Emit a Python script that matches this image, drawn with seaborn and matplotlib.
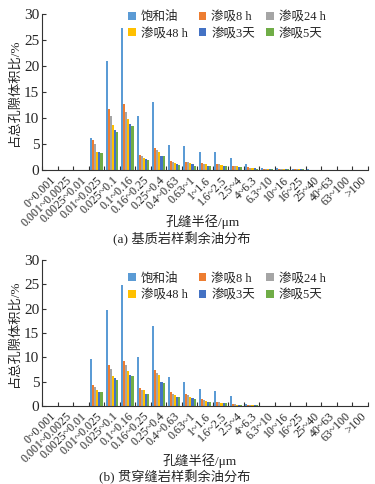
import numpy as np
import pandas as pd
import matplotlib
matplotlib.use("Agg")
import matplotlib.pyplot as plt
import seaborn as sns

categories = ["0~0.001", "0.001~0.0025", "0.0025~0.01", "0.01~0.025", "0.025~0.1",
              "0.1~0.16", "0.16~0.25", "0.25~0.4", "0.4~0.63", "0.63~1", "1~1.6",
              "1.6~2.5", "2.5~4", "4~6.3", "6.3~10", "10~16", "16~25", "25~40",
              "40~63", "63~100", ">100"]
series = ["饱和油", "渗吸8 h", "渗吸24 h", "渗吸48 h", "渗吸3天", "渗吸5天"]
colors = ["#5B9BD5", "#ED7D31", "#A5A5A5", "#FFC000", "#4472C4", "#70AD47"]

# (a) matrix samples
a_sat = [0, 0, 0, 6.1, 21.0, 27.4, 10.3, 13.0, 4.9, 4.6, 3.5, 3.4, 2.4, 1.15, 0.35, 0.3, 0.2, 0.1, 0, 0, 0]
a_8h = [0, 0, 0, 5.8, 11.7, 12.6, 2.9, 4.2, 1.8, 1.5, 1.3, 1.15, 0.8, 0.5, 0.2, 0.2, 0.15, 0.05, 0, 0, 0]
a_24h = [0, 0, 0, 5.0, 10.3, 11.1, 2.7, 3.85, 1.6, 1.5, 1.15, 1.15, 0.75, 0.45, 0.2, 0.15, 0.1, 0.05, 0, 0, 0]
a_48h = [0, 0, 0, 3.5, 8.65, 9.9, 2.4, 3.4, 1.4, 1.4, 1.1, 1.0, 0.75, 0.4, 0.2, 0.15, 0.1, 0.05, 0, 0, 0]
a_3d = [0, 0, 0, 3.45, 7.7, 8.85, 2.05, 2.7, 1.15, 1.15, 0.85, 0.8, 0.65, 0.3, 0.15, 0.1, 0.1, 0.05, 0, 0, 0]
a_5d = [0, 0, 0, 3.3, 7.4, 8.5, 1.9, 2.6, 1.0, 0.8, 0.85, 0.8, 0.6, 0.25, 0.15, 0.1, 0.1, 0.05, 0, 0, 0]

# (b) through-fracture samples
b_sat = [0, 0, 0, 9.75, 19.7, 24.8, 10.1, 16.5, 6.0, 5.0, 3.5, 3.0, 2.0, 0.5, 0, 0, 0, 0, 0, 0, 0]
b_8h = [0, 0, 0, 4.4, 8.4, 9.3, 3.7, 7.4, 2.8, 2.4, 1.4, 0.9, 0.4, 0.1, 0, 0, 0, 0, 0, 0, 0]
b_24h = [0, 0, 0, 3.9, 7.5, 8.4, 3.3, 6.7, 2.55, 2.2, 1.2, 0.8, 0.35, 0.1, 0, 0, 0, 0, 0, 0, 0]
b_48h = [0, 0, 0, 3.3, 6.2, 7.1, 3.2, 6.35, 2.2, 1.8, 1.0, 0.7, 0.3, 0.1, 0, 0, 0, 0, 0, 0, 0]
b_3d = [0, 0, 0, 2.95, 5.75, 6.35, 2.55, 5.0, 1.9, 1.6, 0.9, 0.6, 0.3, 0.1, 0, 0, 0, 0, 0, 0, 0]
b_5d = [0, 0, 0, 2.9, 5.4, 6.15, 2.5, 4.8, 1.9, 1.5, 0.8, 0.6, 0.3, 0.1, 0, 0, 0, 0, 0, 0, 0]

y_ticks = [0, 5, 10, 15, 20, 25, 30]

sns.set_theme(style="ticks")
FAM = ["Liberation Serif", "Noto Sans CJK SC"]
plt.rcParams["font.family"] = FAM


def long_df(vals):
    rows = []
    for s, v in zip(series, vals):
        for c, x in zip(categories, v):
            rows.append({"radius": c, "value": x, "series": s})
    return pd.DataFrame(rows)


fig = plt.figure(figsize=(3.75, 4.84), dpi=100)
fig.patch.set_facecolor("white")
ax_a = fig.add_axes([0.112, 0.6488, 0.869, 0.3222])
ax_b = fig.add_axes([0.112, 0.1612, 0.869, 0.3016])

panels = [
    (ax_a, [a_sat, a_8h, a_24h, a_48h, a_3d, a_5d], 0.988),
    (ax_b, [b_sat, b_8h, b_24h, b_48h, b_3d, b_5d], 0.447),
]

for ax, vals, leg_y in panels:
    df = long_df(vals)
    sns.barplot(data=df, x="radius", y="value", hue="series", order=categories,
                hue_order=series, palette=colors, saturation=1, errorbar=None,
                width=0.8, ax=ax, linewidth=0)
    ax.set_xlim(-0.5, len(categories) - 0.5)
    ax.set_ylim(0, 30)
    ax.set_yticks(y_ticks)
    ax.set_yticklabels([str(t) for t in y_ticks], fontsize=11)
    ax.set_xticks(range(len(categories)))
    ax.set_xticklabels(categories, rotation=45, ha="right", rotation_mode="anchor",
                       fontsize=8.5)
    ax.set_xticks(np.arange(-0.5, len(categories), 1.0), minor=True)
    ax.tick_params(axis="x", which="major", length=0, pad=3)
    ax.tick_params(axis="x", which="minor", direction="in", length=3, width=0.8, color="#333333")
    ax.tick_params(axis="y", direction="in", length=3, width=0.8, pad=2, color="#333333")
    ax.set_xlabel("")
    ax.set_ylabel("占总孔隙体积比/%", fontsize=9.5, labelpad=2)
    for s in ["top", "right"]:
        ax.spines[s].set_visible(False)
    for s in ["left", "bottom"]:
        ax.spines[s].set_color("#333333")
        ax.spines[s].set_linewidth(0.8)
    h, l = ax.get_legend_handles_labels()
    if ax.get_legend() is not None:
        ax.get_legend().remove()
    order = [0, 3, 1, 4, 2, 5]
    ax.legend([h[i] for i in order], [l[i] for i in order], ncol=3, frameon=False,
              loc="upper center", bbox_to_anchor=(0.605, leg_y), bbox_transform=fig.transFigure,
              fontsize=9, handlelength=0.6, handleheight=0.6, handletextpad=0.4,
              columnspacing=0.9, labelspacing=0.35, borderaxespad=0)

fig.text(0.54, 1 - 222 / 484, "孔缝半径/μm", ha="center", va="center", fontsize=9.5)
fig.text(0.485, 1 - 239 / 484, "(a) 基质岩样剩余油分布", ha="center", va="center", fontsize=9.5)
fig.text(0.533, 1 - 461 / 484, "孔缝半径/μm", ha="center", va="center", fontsize=9.5)
fig.text(0.465, 1 - 477 / 484, "(b) 贯穿缝岩样剩余油分布", ha="center", va="center", fontsize=9.5)

fig.savefig("out.png", dpi=100, facecolor="white")
